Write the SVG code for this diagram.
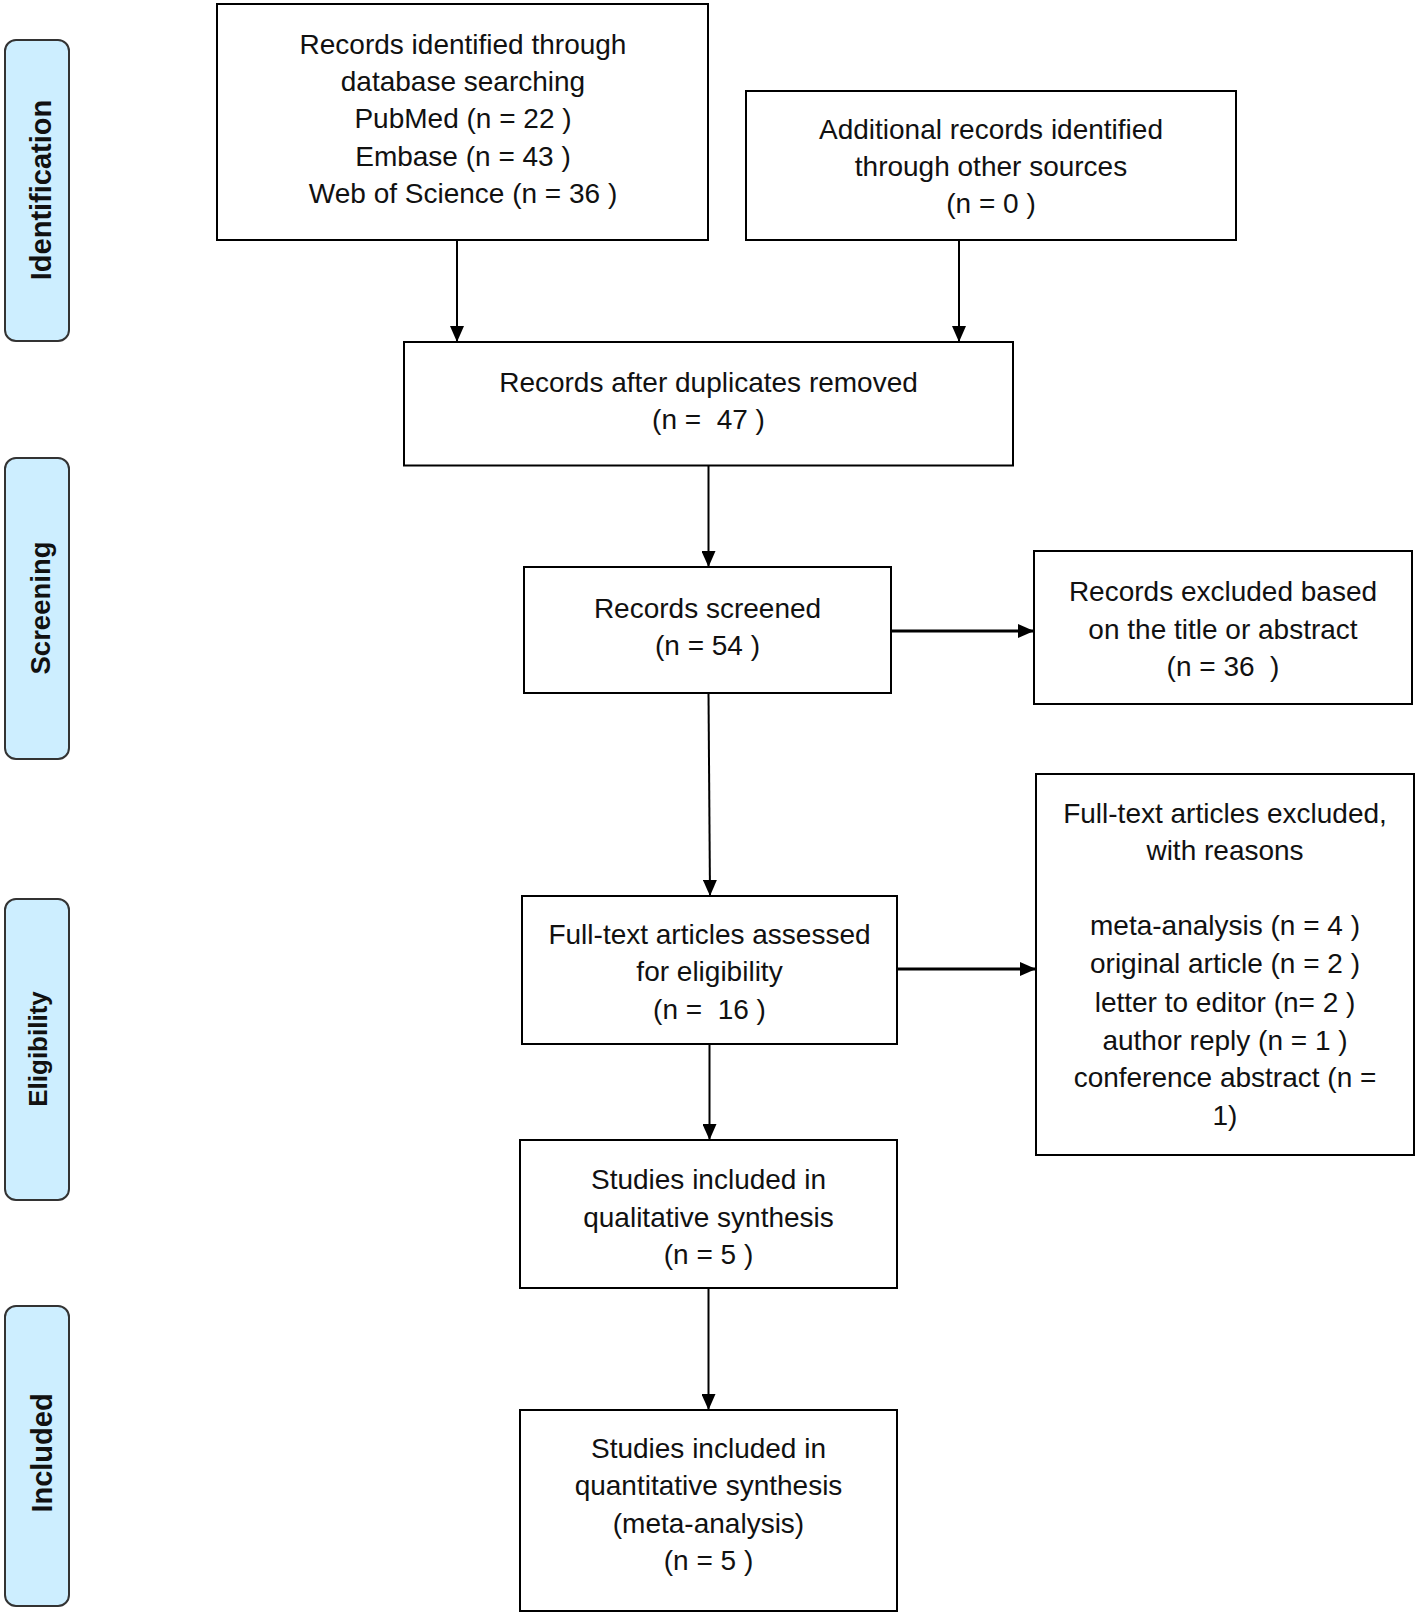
<svg xmlns="http://www.w3.org/2000/svg" width="1418" height="1615" viewBox="0 0 1418 1615">
<style>
.box{fill:#fff;stroke:#000;stroke-width:2}
.lab{fill:#cdeeff;stroke:#333;stroke-width:2}
.t{font-family:"Liberation Sans",Arial,sans-serif;font-size:28px;fill:#111;text-anchor:middle}
.s{font-family:"Liberation Sans",Arial,sans-serif;font-weight:bold;fill:#111;text-anchor:middle}
.c{stroke:#000;stroke-width:2;fill:none}
.ch{stroke:#000;stroke-width:3;fill:none}
</style>
<defs>
<marker id="ah" markerUnits="userSpaceOnUse" markerWidth="16" markerHeight="14" refX="16" refY="7" orient="auto">
<path d="M0,0 L16,7 L0,14 z" fill="#000"/>
</marker>
</defs>
<rect width="1418" height="1615" fill="#fff"/>

<g id="label-identification">
<rect class="lab" x="5" y="40" width="64" height="301" rx="11"/>
<text class="s" font-size="29" transform="translate(37,190) rotate(-90)" x="0" y="14">Identification</text>
</g>
<g id="label-screening">
<rect class="lab" x="5" y="458" width="64" height="301" rx="11"/>
<text class="s" font-size="27.5" transform="translate(37,608) rotate(-90)" x="0" y="13">Screening</text>
</g>
<g id="label-eligibility">
<rect class="lab" x="5" y="899" width="64" height="301" rx="11"/>
<text class="s" font-size="26" transform="translate(37,1049) rotate(-90)" x="0" y="10">Eligibility</text>
</g>
<g id="label-included">
<rect class="lab" x="5" y="1306" width="64" height="300" rx="11"/>
<text class="s" font-size="29" transform="translate(37,1453) rotate(-90)" x="0" y="15">Included</text>
</g>

<g id="connectors">
<line class="c" x1="457" y1="240" x2="457" y2="342" marker-end="url(#ah)"/>
<line class="c" x1="959" y1="240" x2="959" y2="342" marker-end="url(#ah)"/>
<line class="c" x1="708.5" y1="465.5" x2="708.5" y2="567" marker-end="url(#ah)"/>
<line class="ch" x1="891" y1="631" x2="1034" y2="631" marker-end="url(#ah)"/>
<line class="c" x1="708.5" y1="693" x2="710" y2="896" marker-end="url(#ah)"/>
<line class="ch" x1="897" y1="969" x2="1036" y2="969" marker-end="url(#ah)"/>
<line class="c" x1="709.5" y1="1044" x2="709.5" y2="1140" marker-end="url(#ah)"/>
<line class="c" x1="708.5" y1="1288" x2="708.5" y2="1410" marker-end="url(#ah)"/>
</g>

<g id="n-database">
<rect class="box" x="217" y="4" width="491" height="236"/>
<text class="t" x="463" y="54">Records identified through</text>
<text class="t" x="463" y="91">database searching</text>
<text class="t" x="463" y="128">PubMed (n = 22 )</text>
<text class="t" x="463" y="166">Embase (n = 43 )</text>
<text class="t" x="463" y="203">Web of Science (n = 36 )</text>
</g>
<g id="n-other">
<rect class="box" x="746" y="91" width="490" height="149"/>
<text class="t" x="991" y="139">Additional records identified</text>
<text class="t" x="991" y="176">through other sources</text>
<text class="t" x="991" y="213">(n = 0 )</text>
</g>
<g id="n-duplicates">
<rect class="box" x="404" y="342" width="609" height="123.5"/>
<text class="t" x="708.5" y="392">Records after duplicates removed</text>
<text class="t" x="708.5" y="429" xml:space="preserve">(n =  47 )</text>
</g>
<g id="n-screened">
<rect class="box" x="524" y="567" width="367" height="126"/>
<text class="t" x="707.5" y="618">Records screened</text>
<text class="t" x="707.5" y="655">(n = 54 )</text>
</g>
<g id="n-excluded-title">
<rect class="box" x="1034" y="551" width="378" height="153"/>
<text class="t" x="1223" y="601">Records excluded based</text>
<text class="t" x="1223" y="639">on the title or abstract</text>
<text class="t" x="1223" y="676" xml:space="preserve">(n = 36  )</text>
</g>
<g id="n-fulltext">
<rect class="box" x="522" y="896" width="375" height="148"/>
<text class="t" x="709.5" y="944">Full-text articles assessed</text>
<text class="t" x="709.5" y="981">for eligibility</text>
<text class="t" x="709.5" y="1019" xml:space="preserve">(n =  16 )</text>
</g>
<g id="n-excluded-reasons">
<rect class="box" x="1036" y="774" width="378" height="381"/>
<text class="t" x="1225" y="823">Full-text articles excluded,</text>
<text class="t" x="1225" y="860">with reasons</text>
<text class="t" x="1225" y="935">meta-analysis (n = 4 )</text>
<text class="t" x="1225" y="973">original article (n = 2 )</text>
<text class="t" x="1225" y="1012">letter to editor (n= 2 )</text>
<text class="t" x="1225" y="1050">author reply (n = 1 )</text>
<text class="t" x="1225" y="1087">conference abstract (n =</text>
<text class="t" x="1225" y="1125">1)</text>
</g>
<g id="n-qualitative">
<rect class="box" x="520" y="1140" width="377" height="148"/>
<text class="t" x="708.5" y="1189">Studies included in</text>
<text class="t" x="708.5" y="1227">qualitative synthesis</text>
<text class="t" x="708.5" y="1264">(n = 5 )</text>
</g>
<g id="n-quantitative">
<rect class="box" x="520" y="1410" width="377" height="201"/>
<text class="t" x="708.5" y="1458">Studies included in</text>
<text class="t" x="708.5" y="1495">quantitative synthesis</text>
<text class="t" x="708.5" y="1533">(meta-analysis)</text>
<text class="t" x="708.5" y="1570">(n = 5 )</text>
</g>
</svg>
